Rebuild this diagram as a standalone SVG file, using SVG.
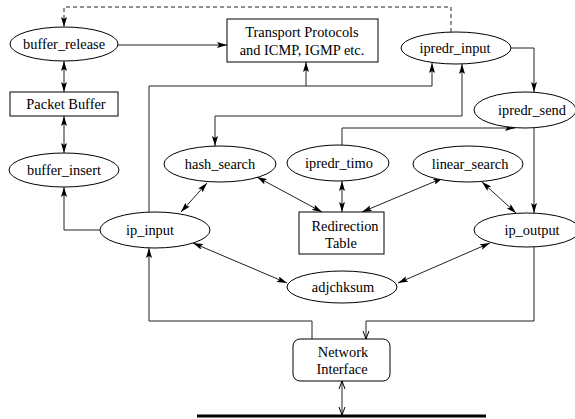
<svg xmlns="http://www.w3.org/2000/svg" width="575" height="419" viewBox="0 0 575 419">
<style>
.n ellipse, .n rect { fill: #fff; stroke: #000; stroke-width: 1; }
.t { font-family: 'Liberation Serif', 'Times New Roman', 'DejaVu Serif', serif; font-size: 14.4px; fill: #000; text-anchor: middle; }
.c path { fill: none; stroke: #222; stroke-width: 1; }
.a { marker-end: url(#ah); }
.d { marker-start: url(#ah); marker-end: url(#ah); }
.o { marker-end: url(#oh); }
.od { marker-start: url(#oh); marker-end: url(#oh); }
</style>
<defs>
<marker id="ah" viewBox="0 0 10 6" refX="10" refY="3" markerWidth="10" markerHeight="6" markerUnits="userSpaceOnUse" orient="auto-start-reverse">
<path d="M0,0 L10,3 L0,6 L2,3 z" fill="#000"/>
</marker>
<marker id="oh" viewBox="-1 -1 10 8" refX="8" refY="3" markerWidth="10" markerHeight="8" markerUnits="userSpaceOnUse" orient="auto-start-reverse">
<path d="M0,0 L8,3 L0,6" fill="none" stroke="#000" stroke-width="1"/>
</marker>
</defs>
<rect width="575" height="419" fill="#fff"/>
<g class="c" id="connectors">
<path d="M451,32 V7 H64 V27" stroke-dasharray="4,3" class="a"/>
<path d="M118,45 H227" class="a"/>
<path d="M64,61 V92" class="d"/>
<path d="M64,116 V153" class="d"/>
<path d="M100,230 H64 V187" class="a"/>
<path d="M149,212 V86 H432 V63" class="a"/>
<path d="M306,86 V62" class="a"/>
<path d="M215,146 V116 H462 V64" class="d"/>
<path d="M342,145 V128 H515" class="a"/>
<path d="M511,48 H534 V92" class="a"/>
<path d="M534,128 V213" class="a"/>
<path d="M534,247 V321 H366 V339" class="o"/>
<path d="M312,339 V321 H149 V248" class="a"/>
<path d="M342,381 V415" class="od"/>
<path d="M207,183 L181,212" class="d"/>
<path d="M257,177 L322,212" class="d"/>
<path d="M342,181 V212" class="d"/>
<path d="M443,178 L362,212" class="d"/>
<path d="M482,182 L516,213" class="d"/>
<path d="M193,243 L287,283" class="d"/>
<path d="M490,243 L398,283" class="d"/>
<path d="M197,416 H486" style="stroke:#000;stroke-width:3"/>
</g>
<g class="n" id="buffer_release"><ellipse cx="64" cy="44" rx="54" ry="17"/><text class="t" x="64" y="49">buffer_release</text></g>
<g class="n" id="packet_buffer"><rect x="10" y="92" width="108" height="24"/><text class="t" x="66" y="109">Packet Buffer</text></g>
<g class="n" id="buffer_insert"><ellipse cx="64" cy="170" rx="55" ry="17"/><text class="t" x="64" y="175">buffer_insert</text></g>
<g class="n" id="transport"><rect x="227" y="19" width="151" height="43"/><text class="t" x="302" y="37">Transport Protocols</text><text class="t" x="302" y="55">and ICMP, IGMP etc.</text></g>
<g class="n" id="ipredr_input"><ellipse cx="456" cy="48" rx="55" ry="16"/><text class="t" x="455" y="53">ipredr_input</text></g>
<g class="n" id="ipredr_send"><ellipse cx="525" cy="110" rx="51" ry="18"/><text class="t" x="532" y="115">ipredr_send</text></g>
<g class="n" id="hash_search"><ellipse cx="220" cy="164" rx="56" ry="18"/><text class="t" x="220" y="169">hash_search</text></g>
<g class="n" id="ipredr_timo"><ellipse cx="338" cy="163" rx="51" ry="18"/><text class="t" x="339" y="168">ipredr_timo</text></g>
<g class="n" id="linear_search"><ellipse cx="468" cy="164" rx="55" ry="18"/><text class="t" x="470" y="169">linear_search</text></g>
<g class="n" id="redirection_table"><rect x="299" y="212" width="85" height="42"/><text class="t" x="345" y="231">Redirection</text><text class="t" x="341" y="248">Table</text></g>
<g class="n" id="ip_input"><ellipse cx="155" cy="230" rx="55" ry="18"/><text class="t" x="150" y="235">ip_input</text></g>
<g class="n" id="ip_output"><ellipse cx="527" cy="230" rx="53" ry="17"/><text class="t" x="532" y="235">ip_output</text></g>
<g class="n" id="adjchksum"><ellipse cx="342" cy="287" rx="55" ry="16"/><text class="t" x="343" y="292">adjchksum</text></g>
<g class="n" id="network_interface"><rect x="293" y="339" width="97" height="42" rx="7"/><text class="t" x="343" y="357">Network</text><text class="t" x="342" y="374">Interface</text></g>
</svg>
